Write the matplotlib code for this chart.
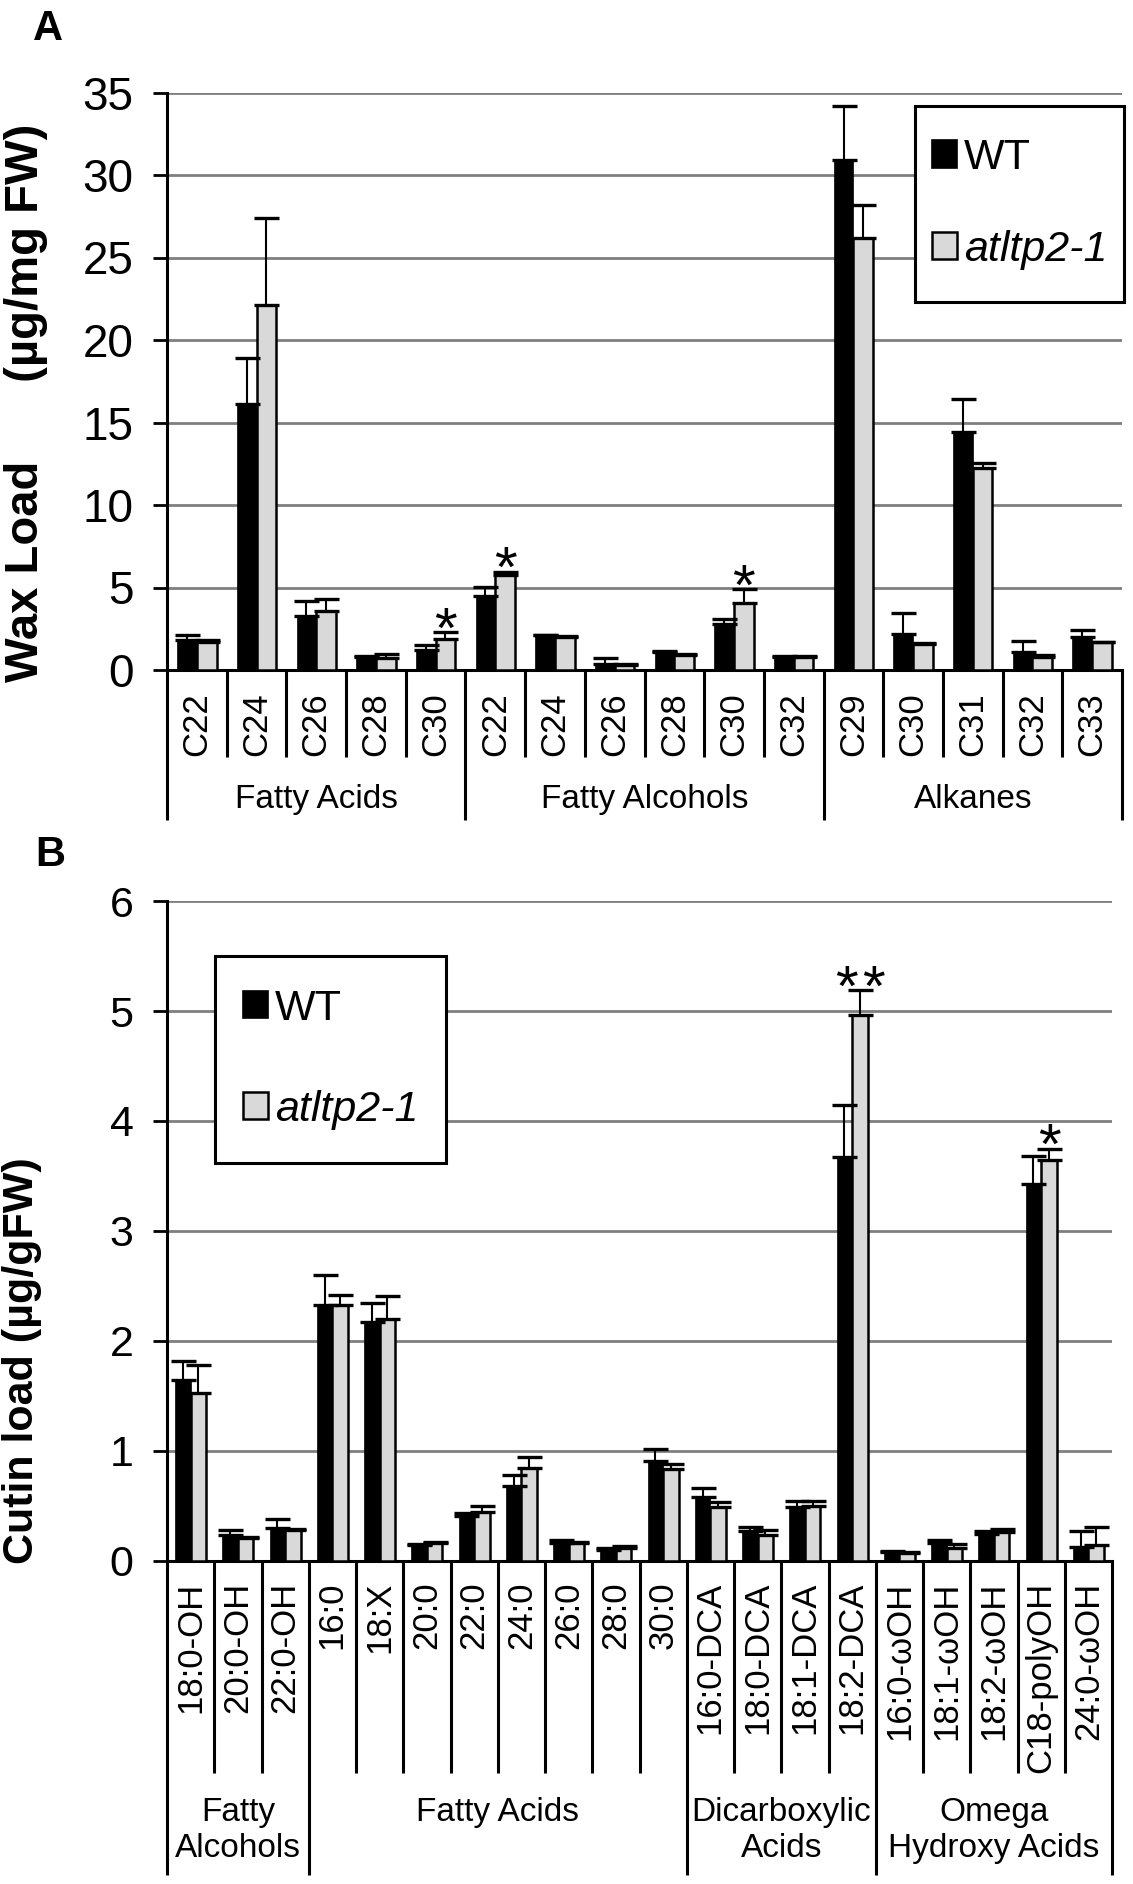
import matplotlib
matplotlib.use("Agg")
import matplotlib.pyplot as plt
from matplotlib.patches import Patch, Rectangle

plt.rcParams["font.family"] = ["Liberation Sans", "DejaVu Sans"]

# Panel A: cuticular wax
wax_groups = ["Fatty Acids", "Fatty Alcohols", "Alkanes"]
wax_group_sizes = [5, 6, 5]
wax_cats = ["C22", "C24", "C26", "C28", "C30",
            "C22", "C24", "C26", "C28", "C30", "C32",
            "C29", "C30", "C31", "C32", "C33"]
wax_wt = [1.8, 16.1, 3.25, 0.8, 1.2,
          4.5, 2.1, 0.35, 1.08, 2.8, 0.78,
          30.9, 2.2, 14.4, 1.1, 2.0]
wax_wt_se = [0.3, 2.8, 0.95, 0.06, 0.3,
             0.55, 0.05, 0.38, 0.06, 0.3, 0.07,
             3.3, 1.27, 2.0, 0.65, 0.44]
wax_mut = [1.7, 22.1, 3.6, 0.75, 1.9,
           5.75, 2.0, 0.3, 0.9, 4.06, 0.8,
           26.2, 1.57, 12.25, 0.8, 1.67]
wax_mut_se = [0.12, 5.3, 0.73, 0.2, 0.4,
              0.2, 0.05, 0.04, 0.06, 0.82, 0.05,
              2.0, 0.05, 0.3, 0.08, 0.05]
wax_stars = {4: 1, 5: 1, 9: 1}

# Panel B: cutin monomers
cutin_groups = ["Fatty\nAlcohols", "Fatty Acids", "Dicarboxylic\nAcids",
                "Omega\nHydroxy Acids"]
cutin_group_sizes = [3, 8, 4, 5]
cutin_cats = ["18:0-OH", "20:0-OH", "22:0-OH",
              "16:0", "18:X", "20:0", "22:0", "24:0", "26:0", "28:0", "30:0",
              "16:0-DCA", "18:0-DCA", "18:1-DCA", "18:2-DCA",
              "16:0-ωOH", "18:1-ωOH", "18:2-ωOH", "C18-polyOH", "24:0-ωOH"]
cutin_wt = [1.65, 0.24, 0.30,
            2.33, 2.17, 0.145, 0.41, 0.68, 0.16, 0.10, 0.91,
            0.58, 0.27, 0.49, 3.67,
            0.085, 0.16, 0.245, 3.43, 0.13]
cutin_wt_se = [0.17, 0.04, 0.08,
               0.27, 0.18, 0.01, 0.03, 0.10, 0.03, 0.02, 0.11,
               0.08, 0.04, 0.06, 0.48,
               0.01, 0.03, 0.025, 0.25, 0.14]
cutin_mut = [1.53, 0.21, 0.28,
             2.33, 2.20, 0.16, 0.45, 0.85, 0.16, 0.115, 0.84,
             0.49, 0.24, 0.50, 4.96,
             0.07, 0.115, 0.26, 3.65, 0.145]
cutin_mut_se = [0.25, 0.01, 0.01,
                0.09, 0.21, 0.01, 0.05, 0.10, 0.01, 0.025, 0.04,
                0.05, 0.04, 0.05, 0.23,
                0.01, 0.04, 0.03, 0.10, 0.165]
cutin_stars = {14: 2, 18: 1}

W, H = 1133, 1884
fig = plt.figure(figsize=(W / 100, H / 100), dpi=100)


def panel(ax, cats, groups, sizes, wt, wt_se, mut, mut_se, stars, ymax, step,
          tick_fs, sep_y, grp_y, grp_text_y, lab_pad, box, spacing):
    n = len(cats)
    x = range(n)
    bw = 0.33
    xw = [i - bw / 2 for i in x]
    xm = [i + bw / 2 for i in x]
    ax.bar(xw, wt, bw, color="black", edgecolor="black", lw=0.5, zorder=3)
    ax.bar(xm, mut, bw, color="#d9d9d9", edgecolor="black", lw=1.8, zorder=3)
    for xs, v, e in ((xw, wt, wt_se), (xm, mut, mut_se)):
        ax.errorbar(xs, v, yerr=[[0] * n, e], fmt="none", ecolor="black",
                    elinewidth=1.5, capsize=9, capthick=2.4, zorder=4)
    # significance asterisks above the mutant error bar
    for i, k in stars.items():
        offs = [0] if k == 1 else [-10, 10]
        for dx in offs:
            ax.annotate("*", (xm[i], mut[i] + mut_se[i]), xytext=(dx, -11),
                        textcoords="offset points", ha="center",
                        va="baseline", fontsize=42)

    ax.set_xlim(-0.5, n - 0.5)
    ax.set_ylim(0, ymax)
    ax.set_yticks(range(0, ymax + 1, step))
    ax.tick_params(axis="y", length=10, width=2, labelsize=tick_fs, pad=14)
    ax.set_xticks(list(x), cats, rotation=90, fontsize=25)
    ax.tick_params(axis="x", length=0, pad=lab_pad)
    ax.yaxis.grid(True, color="#7f7f7f", lw=2.0)
    ax.set_axisbelow(True)
    for s in ("top", "right"):
        ax.spines[s].set_visible(False)
    for s in ("left", "bottom"):
        ax.spines[s].set_linewidth(2.2)

    # category and group separators under the axis
    tr = ax.get_xaxis_transform()
    edges = [-0.5]
    for k in sizes:
        edges.append(edges[-1] + k)
    for i in range(n + 1):
        b = i - 0.5
        y1 = grp_y if b in edges else sep_y
        ax.plot([b, b], [0, y1], color="black", lw=2.2, transform=tr,
                clip_on=False, solid_capstyle="butt")
    for g, a, b in zip(groups, edges[:-1], edges[1:]):
        ax.text((a + b) / 2, grp_text_y, g, transform=tr,
                ha="center", va="top", fontsize=24, linespacing=1.2)

    # legend with its own frame
    x0, y0, x1, y1 = box
    ax.add_patch(Rectangle((x0, y0), x1 - x0, y1 - y0, transform=ax.transAxes,
                           fill=True, fc="white", ec="black", lw=2.2,
                           clip_on=False, zorder=5))
    handles = [Patch(fc="black", ec="black", lw=1.2),
               Patch(fc="#d9d9d9", ec="black", lw=1.8)]
    leg = ax.legend(handles, ["WT", "atltp2-1"], loc="center",
                    bbox_to_anchor=((x0 + x1) / 2, (y0 + y1) / 2),
                    frameon=False, fontsize=31, handlelength=0.6,
                    handleheight=0.6, handletextpad=0.15,
                    labelspacing=spacing, borderpad=0)
    leg.set_zorder(6)
    leg.get_texts()[1].set_fontstyle("italic")


ax_a = fig.add_axes([167 / W, 1 - 670 / H, 955 / W, 577.5 / H])
ax_b = fig.add_axes([167 / W, 1 - 1561 / H, 945 / W, 660 / H])

panel(ax_a, wax_cats, wax_groups, wax_group_sizes, wax_wt, wax_wt_se,
      wax_mut, wax_mut_se, wax_stars, 35, 5, 33,
      -0.151, -0.260, -0.198, 16, (0.783, 0.637, 1.002, 0.977), 1.2)
panel(ax_b, cutin_cats, cutin_groups, cutin_group_sizes, cutin_wt,
      cutin_wt_se, cutin_mut, cutin_mut_se, cutin_stars, 6, 1, 31,
      -0.321, -0.476, -0.358, 15, (0.051, 0.603, 0.295, 0.917), 1.42)

ax_a.set_ylabel("Wax Load      (µg/mg FW)", fontsize=34, fontweight="bold")
ax_a.yaxis.set_label_coords(-0.125, 0.462)
ax_b.set_ylabel("Cutin load (µg/gFW)", fontsize=31, fontweight="bold")
ax_b.yaxis.set_label_coords(-0.132, 0.303)

fig.text(48 / W, 1 - 29 / H, "A", fontsize=30, fontweight="bold",
         ha="center", va="center")
fig.text(50 / W, 1 - 855 / H, "B", fontsize=30, fontweight="bold",
         ha="center", va="center")

fig.savefig("out.png", dpi=100)
